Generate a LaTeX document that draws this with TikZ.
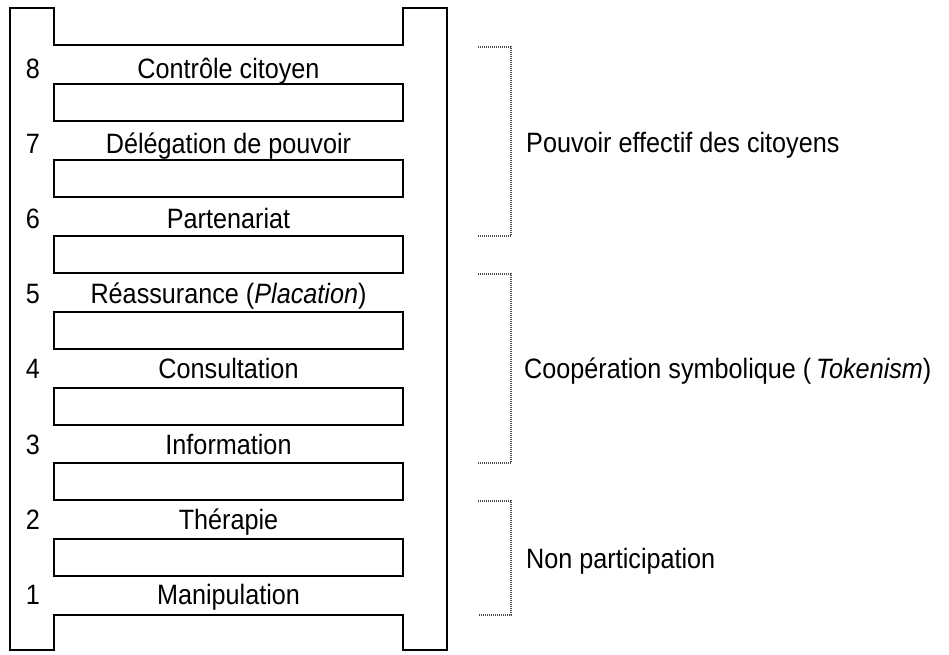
\documentclass[tikz,border=0pt]{standalone}
\usepackage{fontspec}
\setmainfont{Liberation Sans}[FakeStretch=0.9]
\usetikzlibrary{positioning}

\begin{document}
\begin{tikzpicture}[x=1pt,y=-1pt,
    ladder/.style={line width=2pt},
    rung/.style={anchor=base, inner sep=0pt, font=\fontsize{28}{32}\selectfont},
    group/.style={anchor=base west, inner sep=0pt, font=\fontsize{28}{32}\selectfont},
    brace/.style={black!70, dash pattern=on 1pt off 1pt, line width=1.2pt}]
  \useasboundingbox (0,0) rectangle (949,654);
  % ladder frame
  \draw[ladder] (10,8) -- (10,650) -- (54,650) -- (54,615) -- (403,615) -- (403,650)
    -- (447,650) -- (447,8) -- (403,8) -- (403,45) -- (54,45) -- (54,8) -- cycle;
  \foreach \k in {0,...,6}
    \draw[ladder] (54,83.9+75.9*\k) rectangle (403,120.9+75.9*\k);
  % steps
  \foreach \n/\t [count=\i from 0] in {8/Contrôle citoyen, 7/Délégation de pouvoir,
      6/Partenariat, 5/{Réassurance (\textit{Placation})}, 4/Consultation,
      3/Information, 2/Thérapie, 1/Manipulation} {
    \node[rung] (num\n) at (33,78+75.2*\i) {\n};
    \node[rung] (step\n) at (228.5,78+75.2*\i) {\t};
  }
  % groups
  \coordinate (p1) at (478,47);   \coordinate (p2) at (511,47);
  \coordinate (p3) at (511,236);  \coordinate (p4) at (478,236);
  \draw[brace] (p1) -- (p2) -- (p3) -- (p4);
  \node[group] (power) at (526,152) {Pouvoir effectif des citoyens};
  \coordinate (t1) at (478,274);  \coordinate (t2) at (511,274);
  \coordinate (t3) at (511,463);  \coordinate (t4) at (478,463);
  \draw[brace] (t1) -- (t2) -- (t3) -- (t4);
  \node[group] (token) at (524,378) {Coopération symbolique (\,\textit{Tokenism})};
  \coordinate (n1) at (478,501);  \coordinate (n2) at (511,501);
  \coordinate (n3) at (511,615);  \coordinate (n4) at (478,615);
  \draw[brace] (n1) -- (n2) -- (n3) -- (n4);
  \node[group] (nonpart) at (526,568) {Non participation};
\end{tikzpicture}
\end{document}
